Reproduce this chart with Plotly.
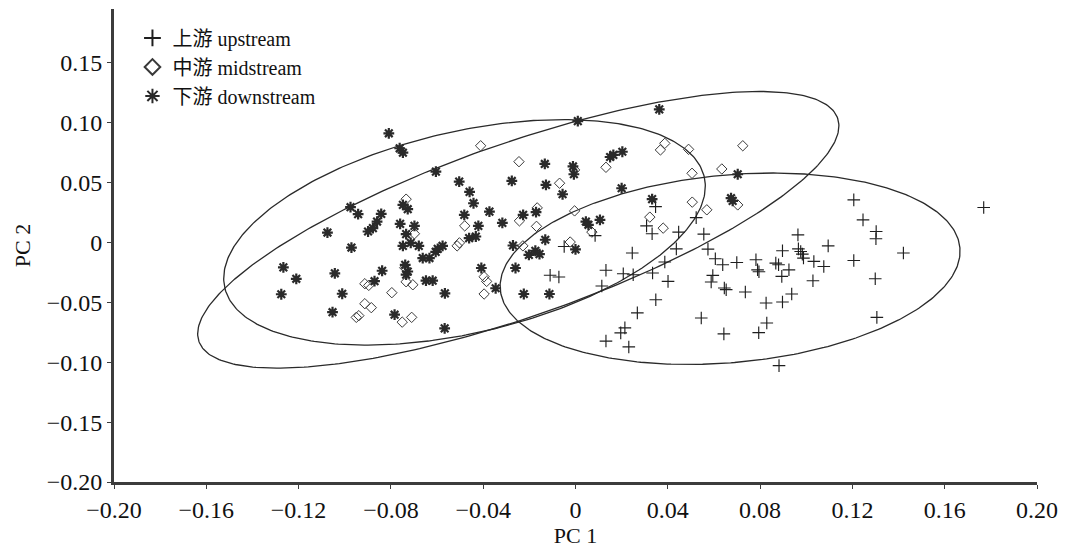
import numpy as np
import plotly.graph_objects as go

# ---- data ----
up_x = [0.0347, 0.0308, 0.0332, 0.0523, 0.0447, 0.0556, 0.0574, 0.0437, 0.0246, 0.0387,
        0.0334, 0.0401, 0.0132, 0.0207, 0.0250, 0.0114, 0.0606, 0.0638, 0.0699, 0.0595,
        0.0588, 0.0645, 0.0653, 0.0736, 0.0782, 0.0789, 0.0795, 0.0826, 0.0829, 0.0348,
        0.0268, 0.0545, 0.0643, 0.0794, 0.0196, 0.0214, 0.0132, 0.0231, 0.0085, -0.0049,
        -0.0110, -0.0072, 0.1206, 0.1246, 0.1303, 0.1302, 0.0964, 0.0897, 0.0966, 0.0983,
        0.0988, 0.0976, 0.1095, 0.1033, 0.1076, 0.1206, 0.1421, 0.0925, 0.0868, 0.0880,
        0.0894, 0.1029, 0.1299, 0.0937, 0.0897, 0.1306, 0.0882, 0.1769]
up_y = [0.0300, 0.0139, 0.0073, 0.0208, 0.0087, 0.0070, -0.0055, -0.0053, -0.0088, -0.0163,
        -0.0255, -0.0325, -0.0232, -0.0261, -0.0269, -0.0363, -0.0136, -0.0186, -0.0167, -0.0275,
        -0.0330, -0.0380, -0.0394, -0.0413, -0.0144, -0.0228, -0.0244, -0.0505, -0.0672, -0.0478,
        -0.0588, -0.0630, -0.0763, -0.0753, -0.0755, -0.0713, -0.0823, -0.0872, 0.0058, -0.0033,
        -0.0273, -0.0288, 0.0356, 0.0189, 0.0092, 0.0031, 0.0064, -0.0069, -0.0053, -0.0097,
        -0.0130, -0.0075, -0.0028, -0.0158, -0.0200, -0.0150, -0.0088, -0.0228, -0.0172, -0.0186,
        -0.0283, -0.0319, -0.0303, -0.0430, -0.0497, -0.0625, -0.1028, 0.0292]

mid_x = [-0.0411, -0.0245, -0.0069, 0.0132, 0.0368, 0.0387, 0.0490, 0.0505, 0.0634, 0.0725,
         0.0703, 0.0506, 0.0569, 0.0322, 0.0380, -0.0004, -0.0734, -0.0480, -0.0513, -0.0503,
         -0.0243, -0.0166, -0.0169, -0.0004, 0.0071, -0.0023, -0.0228, -0.0698, -0.0734, -0.0705,
         -0.0740, -0.0396, -0.0385, -0.0396, -0.0913, -0.0896, -0.0796, -0.0913, -0.0885, -0.0950,
         -0.0939, -0.0751, -0.0710]
mid_y = [0.0808, 0.0675, 0.0495, 0.0628, 0.0773, 0.0828, 0.0778, 0.0578, 0.0614, 0.0808,
         0.0314, 0.0337, 0.0273, 0.0212, 0.0120, 0.0606, 0.0362, 0.0139, -0.0028, -0.0003,
         0.0181, 0.0289, 0.0135, 0.0264, 0.0087, 0.0004, -0.0028, 0.0073, -0.0328, -0.0353,
         -0.0211, -0.0286, -0.0325, -0.0430, -0.0344, -0.0358, -0.0419, -0.0511, -0.0544, -0.0625,
         -0.0611, -0.0665, -0.0625]

down_x = [-0.0809, -0.0762, -0.0748, -0.0605, -0.0504, -0.0459, -0.0442, -0.0482, -0.0421, -0.0461,
          -0.0432, -0.0975, -0.0942, -0.0842, -0.0860, -0.0878, -0.0899, -0.1075, -0.0971, -0.0748,
          -0.0727, -0.0760, -0.0698, -0.0734, -0.0748, -0.0714, -0.0679, -0.0662, -0.0633, -0.0606,
          -0.0597, -0.0576, -0.0738, -0.0727, -0.0734, -0.0648, -0.0619, -0.0566, -0.0838, -0.0871,
          -0.1043, -0.1266, -0.1210, -0.1275, -0.1011, -0.1053, -0.0784, -0.0567, -0.0408, -0.0346,
          -0.0373, -0.0317, -0.0227, -0.0171, -0.0128, -0.0056, -0.0276, -0.0133, -0.0011, -0.0007,
          0.0010, 0.0150, 0.0164, 0.0203, 0.0200, 0.0363, 0.0045, 0.0056, 0.0106, -0.0271,
          -0.0260, -0.0202, -0.0174, -0.0156, -0.0131, 0.0000, -0.0224, -0.0113, 0.0332, 0.0703,
          0.0674, 0.0681]
down_y = [0.0912, 0.0787, 0.0750, 0.0592, 0.0508, 0.0423, 0.0328, 0.0231, 0.0139, 0.0037,
          0.0050, 0.0295, 0.0237, 0.0239, 0.0175, 0.0120, 0.0092, 0.0083, -0.0042, 0.0314,
          0.0278, 0.0156, 0.0139, 0.0070, -0.0028, -0.0003, -0.0028, -0.0130, -0.0130, -0.0078,
          -0.0053, -0.0028, -0.0186, -0.0242, -0.0269, -0.0319, -0.0319, -0.0425, -0.0236, -0.0323,
          -0.0257, -0.0208, -0.0303, -0.0432, -0.0428, -0.0582, -0.0603, -0.0717, -0.0213, -0.0382,
          0.0258, 0.0164, 0.0231, 0.0253, 0.0481, 0.0403, 0.0514, 0.0656, 0.0635, 0.0570,
          0.1014, 0.0714, 0.0731, 0.0758, 0.0453, 0.1112, 0.0175, 0.0148, 0.0189, -0.0025,
          -0.0213, -0.0103, -0.0069, -0.0097, 0.0023, -0.0057, -0.0430, -0.0430, 0.0362, 0.0570,
          0.0370, 0.0348]

# ellipses: centre, major semi-diameter vector, minor semi-diameter vector (data units)
ell_cx = [-0.0248, -0.0481, 0.0670]
ell_cy = [0.0106, 0.0085, -0.0219]
ell_major = [(0.1384, 0.0932), (0.1039, 0.0463), (0.0996, 0.0175)]
ell_minor = [(0.0123, -0.0683), (0.0098, -0.0820), (0.0037, -0.0780)]

legend_names = ["上游 upstream", "中游 midstream", "下游 downstream"]

x_ticks = [-0.20, -0.16, -0.12, -0.08, -0.04, 0, 0.04, 0.08, 0.12, 0.16, 0.20]
y_ticks = [-0.20, -0.15, -0.10, -0.05, 0, 0.05, 0.10, 0.15]


def fmt(v, nd):
    if abs(v) < 1e-12:
        return "0"
    s = f"{abs(v):.{nd}f}"
    return ("\u2212" + s) if v < 0 else s


FONT = "Liberation Serif, Times New Roman, Noto Sans CJK SC, serif"
INK = "#1e1e1e"

fig = go.Figure()

t = np.linspace(0, 2 * np.pi, 361)
for cx, cy, (mx, my), (nx, ny) in zip(ell_cx, ell_cy, ell_major, ell_minor):
    fig.add_trace(go.Scatter(
        x=cx + mx * np.cos(t) + nx * np.sin(t),
        y=cy + my * np.cos(t) + ny * np.sin(t),
        mode="lines", line=dict(color="#2a2a2a", width=1.3),
        showlegend=False, hoverinfo="skip"))

fig.add_trace(go.Scatter(
    x=up_x, y=up_y, mode="markers", name=legend_names[0],
    marker=dict(symbol="cross-thin-open", size=9, color=INK,
                line=dict(color=INK, width=1.15))))
fig.add_trace(go.Scatter(
    x=mid_x, y=mid_y, mode="markers", name=legend_names[1],
    marker=dict(symbol="diamond-open", size=8, color="#3a3a3a",
                line=dict(color="#3a3a3a", width=1))))
fig.add_trace(go.Scatter(
    x=down_x, y=down_y, mode="markers", name=legend_names[2],
    marker=dict(symbol="asterisk-open", size=9, color="#2a2a2a",
                line=dict(color="#2a2a2a", width=2.2))))

fig.update_layout(
    width=1067, height=553,
    margin=dict(l=114, r=24, t=9, b=70),
    paper_bgcolor="white", plot_bgcolor="white",
    font=dict(family=FONT, size=22, color="#111111"),
    showlegend=True,
    legend=dict(x=0.02, y=0.98, xanchor="left", yanchor="top",
                bgcolor="rgba(0,0,0,0)", font=dict(family=FONT, size=20),
                itemsizing="constant", tracegroupgap=0, itemwidth=30),
    xaxis=dict(range=[-0.20, 0.20], tickvals=x_ticks,
               ticktext=[fmt(v, 2) for v in x_ticks],
               tickfont=dict(size=24),
               showgrid=False, zeroline=False, showline=True,
               linecolor="#3c3c3c", linewidth=3,
               ticks="outside", ticklen=4, tickcolor="#3c3c3c",
               title=dict(text="PC 1", standoff=6, font=dict(size=22))),
    yaxis=dict(range=[-0.20, 0.195], tickvals=y_ticks,
               ticktext=[fmt(v, 2) for v in y_ticks],
               tickfont=dict(size=24),
               showgrid=False, zeroline=False, showline=True,
               linecolor="#3c3c3c", linewidth=3,
               ticks="outside", ticklen=4, tickcolor="#3c3c3c",
               title=dict(text="PC 2", standoff=10, font=dict(size=22))),
)

fig.write_html("out.html",
               config={"displayModeBar": False, "responsive": False},
               post_script="document.body.style.margin='0';document.body.style.overflow='hidden';")
